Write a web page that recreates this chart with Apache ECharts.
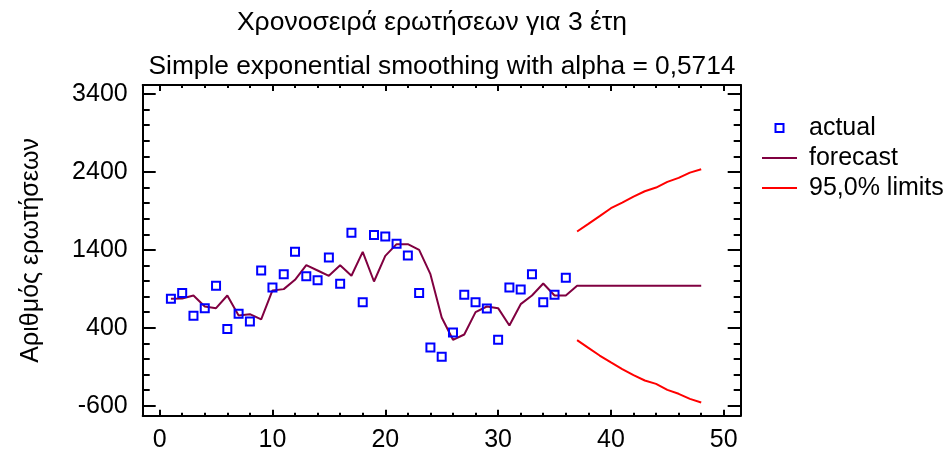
<!DOCTYPE html>
<html>
<head>
<meta charset="utf-8">
<script src="https://cdn.jsdelivr.net/npm/echarts@6/dist/echarts.min.js"></script>
<style>
  html, body { margin: 0; padding: 0; background: #fff; }
  #chart { width: 952px; height: 454px; }
</style>
</head>
<body>
<div id="chart"></div>
<script>
// 数据 - actual (t = 1..36)
var actualX = [1, 2, 3, 4, 5, 6, 7, 8, 9, 10, 11, 12, 13, 14, 15, 16, 17, 18,
               19, 20, 21, 22, 23, 24, 25, 26, 27, 28, 29, 30, 31, 32, 33, 34, 35, 36];
var actualY = [772, 845, 554, 652, 938, 383, 579, 481, 1135, 917, 1088, 1374, 1062, 1011, 1302, 964, 1618, 729,
               1592, 1571, 1477, 1327, 845, 148, 28, 340, 823, 729, 648, 246, 917, 891, 1088, 729, 823, 1041];

// forecast (t = 1..48)
var forecastX = [1, 2, 3, 4, 5, 6, 7, 8, 9, 10, 11, 12, 13, 14, 15, 16, 17, 18, 19, 20, 21, 22, 23, 24,
                 25, 26, 27, 28, 29, 30, 31, 32, 33, 34, 35, 36, 37, 38, 39, 40, 41, 42, 43, 44, 45, 46, 47, 48];
var forecastY = [772, 775, 814, 673, 652, 814, 558, 575, 507, 879, 896, 1015, 1203, 1135, 1067, 1203, 1067, 1374,
                 994, 1323, 1473, 1473, 1400, 1088, 532, 246, 314, 601, 673, 652, 430, 703, 814, 968, 814, 814,
                 938, 938, 938, 938, 938, 938, 938, 938, 938, 938, 938, 938];

// 95,0% limits (t = 37..48)
var limitX = [37, 38, 39, 40, 41, 42, 43, 44, 45, 46, 47, 48];
var upperY = [1635, 1733, 1832, 1934, 2007, 2084, 2152, 2199, 2272, 2323, 2391, 2434];
var lowerY = [241, 143, 44, -45, -131, -208, -276, -320, -396, -447, -512, -558];

// 刻度
var xMajor = [0, 10, 20, 30, 40, 50];
var xMinor = [0, 2, 4, 6, 8, 10, 12, 14, 16, 18, 20, 22, 24, 26, 28, 30, 32, 34, 36, 38, 40, 42, 44, 46, 48, 50];
var yMajor = [-600, 400, 1400, 2400, 3400];
var yMinor = [-600, -400, -200, 0, 200, 400, 600, 800, 1000, 1200, 1400, 1600, 1800, 2000, 2200, 2400,
              2600, 2800, 3000, 3200, 3400];

var titleText = 'Χρονοσειρά ερωτήσεων για 3 έτη';
var subText = 'Simple exponential smoothing with alpha = 0,5714';
var yName = 'Αριθμός ερωτήσεων';

function zip(xs, ys) {
    return xs.map(function (x, i) { return [x, ys[i]]; });
}

var font = "'Liberation Sans', Arial, sans-serif";
var black = '#000';
var plain = function (v) { return String(v); };

/*坐标轴 - 主刻度/次刻度*/
function xAxisOf(position, ticks, len, showLine, showLabel) {
    return {
        type: 'value', position: position, min: -1.5, max: 51.5,
        axisLine: { show: showLine, onZero: false, lineStyle: { color: black, width: 2 } },
        axisTick: { show: true, inside: true, length: len, customValues: ticks, lineStyle: { color: black, width: 2 } },
        axisLabel: { show: showLabel, customValues: xMajor, formatter: plain, color: black, fontSize: 25, fontFamily: font, margin: 12 },
        splitLine: { show: false }
    };
}
function yAxisOf(position, ticks, len, showLine, showLabel, name) {
    return {
        type: 'value', position: position, min: -728, max: 3515,
        name: name || '', nameLocation: 'middle', nameGap: 97,
        nameTextStyle: { color: black, fontSize: 25, fontFamily: font, lineHeight: 30 },
        axisLine: { show: showLine, onZero: false, lineStyle: { color: black, width: 2 } },
        axisTick: { show: true, inside: true, length: len, customValues: ticks, lineStyle: { color: black, width: 2 } },
        axisLabel: { show: showLabel, customValues: yMajor, formatter: plain, color: black, fontSize: 25, fontFamily: font, margin: 15 },
        splitLine: { show: false }
    };
}

var lineIcon = 'path://M0,0L35,0L35,2L0,2Z';
var boxIcon = 'path://M0,0L8,0L8,8L0,8Z';

var myChart = echarts.init(document.getElementById('chart'));
var option = {
    animation: false,
    backgroundColor: '#fff',
    title: [
        { text: titleText, left: 432, top: 8, textAlign: 'center', padding: 0,
          textStyle: { color: black, fontSize: 26.5, fontWeight: 'normal', fontFamily: font, lineHeight: 30 } },
        { text: subText, left: 442, top: 52, textAlign: 'center', padding: 0,
          textStyle: { color: black, fontSize: 26.3, fontWeight: 'normal', fontFamily: font, lineHeight: 30 } }
    ],
    legend: {
        orient: 'vertical', left: 762, top: 113, padding: 0, itemGap: 0,
        itemWidth: 35, itemHeight: 8,
        textStyle: { color: black, fontSize: 25, fontFamily: font, lineHeight: 30, padding: [0, 0, 0, 7] },
        data: [
            { name: 'actual', icon: boxIcon, itemStyle: { color: '#fff', borderColor: '#0000ff', borderWidth: 2 } },
            { name: 'forecast', icon: lineIcon, itemStyle: { color: '#800040', borderWidth: 0 } },
            { name: '95,0% limits', icon: lineIcon, itemStyle: { color: '#ff0000', borderWidth: 0 } }
        ]
    },
    grid: { left: 142.7, right: 211.3, top: 85, bottom: 38.3 },
    xAxis: [
        xAxisOf('bottom', xMajor, 6, true, true),
        xAxisOf('bottom', xMinor, 3, false, false),
        xAxisOf('top', xMajor, 6, true, false),
        xAxisOf('top', xMinor, 3, false, false)
    ],
    yAxis: [
        yAxisOf('left', yMajor, 13, true, true, yName),
        yAxisOf('left', yMinor, 7, false, false),
        yAxisOf('right', yMajor, 13, true, false),
        yAxisOf('right', yMinor, 7, false, false)
    ],
    series: [
        {
            name: 'forecast', type: 'line', data: zip(forecastX, forecastY),
            symbol: 'none', lineStyle: { color: '#800040', width: 2 }, itemStyle: { color: '#800040' }, z: 2
        },
        {
            name: '95,0% limits', type: 'line', data: zip(limitX, upperY),
            symbol: 'none', lineStyle: { color: '#ff0000', width: 2 }, itemStyle: { color: '#ff0000' }, z: 2
        },
        {
            name: '95,0% limits', type: 'line', data: zip(limitX, lowerY),
            symbol: 'none', lineStyle: { color: '#ff0000', width: 2 }, itemStyle: { color: '#ff0000' }, z: 2
        },
        {
            name: 'actual', type: 'scatter', data: zip(actualX, actualY),
            symbol: 'rect', symbolSize: 8,
            itemStyle: { color: 'rgba(0,0,0,0)', borderColor: '#0000ff', borderWidth: 2, opacity: 1 }, z: 3
        }
    ]
};
myChart.setOption(option);
</script>
</body>
</html>
